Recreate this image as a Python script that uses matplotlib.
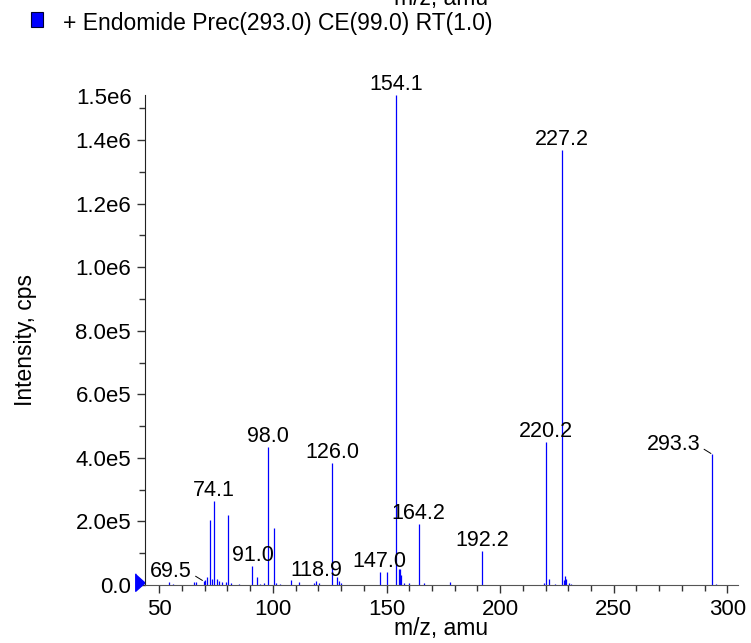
import numpy as np
import matplotlib
matplotlib.use("Agg")
import matplotlib.pyplot as plt
from matplotlib.ticker import MultipleLocator, FixedLocator, FixedFormatter

plt.rcParams['font.family'] = ['Liberation Sans', 'DejaVu Sans']

# espectro: m/z y intensidad (cps)
mz = [54.4, 56.0, 65.2, 66.3, 69.5, 70.2, 71.2, 72.2, 73.0, 74.1, 75.2, 76.3,
      77.5, 79.2, 80.1, 81.5, 85.0, 91.0, 93.1, 94.5, 96.0, 98.0, 100.3, 101.5,
      103.0, 108.0, 111.3, 118.0, 118.9, 120.5, 126.0, 128.0, 129.0, 130.0,
      147.0, 150.3, 154.1, 155.3, 155.8, 156.4, 157.5, 160.0, 164.2, 166.3,
      178.0, 192.2, 219.5, 220.2, 221.7, 224.0, 227.2, 228.0, 228.4, 229.0,
      230.5, 231.3, 293.3, 295.0]
intensity = [8e3, 4e3, 8e3, 10e3, 12e3, 15e3, 25e3, 204e3, 20e3, 263.6e3, 20e3, 12e3,
             8e3, 8e3, 219.5e3, 5e3, 4e3, 59e3, 24e3, 4e3, 5e3, 433e3, 178e3, 5e3,
             4e3, 15e3, 8e3, 6e3, 12e3, 6e3, 385e3, 24e3, 12e3, 6e3,
             40e3, 40e3, 1542e3, 50e3, 51e3, 30e3, 6e3, 6e3, 191e3, 6e3,
             10e3, 106e3, 5e3, 450e3, 20e3, 4e3, 1369e3, 15e3, 27e3, 20e3,
             6e3, 4e3, 411.6e3, 4e3]

# picos etiquetados
labeled = [154.1, 227.2, 220.2, 98.0, 126.0, 74.1, 91.0, 118.9, 147.0, 164.2, 192.2]
leader_labels = [69.5, 293.3]

yticks = [0, 2e5, 4e5, 6e5, 8e5, 1e6, 1.2e6, 1.4e6]
ytick_labels = ["0.0", "2.0e5", "4.0e5", "6.0e5", "8.0e5", "1.0e6", "1.2e6", "1.4e6"]

fig = plt.figure(figsize=(7.51, 6.43), dpi=100)
ax = fig.add_axes([145/751, 1-585/643, 593/751, 490/643])

ax.vlines(mz, 0, intensity, color="#0000FF", lw=0.9)

ax.set_xlim(43.7, 304.7)
ax.set_ylim(0, 1.542e6)

ax.spines['top'].set_visible(False)
ax.spines['right'].set_visible(False)
ax.spines['bottom'].set_color('#555555')
ax.spines['left'].set_color('#222222')

ax.xaxis.set_major_locator(MultipleLocator(50))
ax.xaxis.set_minor_locator(MultipleLocator(10))
ax.yaxis.set_major_locator(FixedLocator(yticks))
ax.yaxis.set_major_formatter(FixedFormatter(ytick_labels))
ax.yaxis.set_minor_locator(MultipleLocator(1e5))
ax.tick_params(which='major', length=6, width=1, color='#333333', labelsize=16, pad=4)
ax.tick_params(which='minor', length=4, width=1, color='#333333')

ax.set_ylabel("Intensity, cps", fontsize=16.5)
ax.yaxis.set_label_coords(-0.182, 0.5)
fig.text(441/751, 1-635/643, "m/z, amu", fontsize=16.5, va='baseline', ha='center')

# valor máximo en la parte superior del eje
ax.annotate("1.5e6", xy=(0, 1), xycoords='axes fraction', xytext=(-13, -3),
            textcoords='offset pixels', ha='right', va='center', fontsize=16)

for m in labeled:
    h = intensity[mz.index(m)]
    ax.annotate(f"{m:.1f}", xy=(m, h), xytext=(0, 5), textcoords='offset pixels',
                ha='center', va='baseline', fontsize=15.5)

for m in leader_labels:
    h = intensity[mz.index(m)]
    ax.annotate(f"{m:.1f}", xy=(m, h), xytext=(-12, 4), textcoords='offset pixels',
                ha='right', va='baseline', fontsize=15.5,
                arrowprops=dict(arrowstyle='-', color='black', lw=0.7,
                                relpos=(1, 0.4), shrinkA=1, shrinkB=1))

# marcador triangular a la izquierda
ax.plot([43.7], [1.0e4], marker=[(0, 0), (-1, -0.9), (-1, 0.9)], markersize=14,
        color="#0000FF", clip_on=False)

# leyenda y texto recortado de la parte superior
fig.patches.append(plt.Rectangle((31/751, 1-26.7/643), 11.7/751, 14.4/643,
                                 transform=fig.transFigure, facecolor="#0000FF",
                                 edgecolor="#000033", lw=0.8))
fig.text(63/751, 1-30/643, "+ Endomide Prec(293.0) CE(99.0) RT(1.0)", fontsize=16.5,
         va='baseline', ha='left')
fig.text(441/751, 1-5.5/643, "m/z, amu", fontsize=16.5, va='baseline', ha='center')

fig.savefig("out.png", dpi=100)
